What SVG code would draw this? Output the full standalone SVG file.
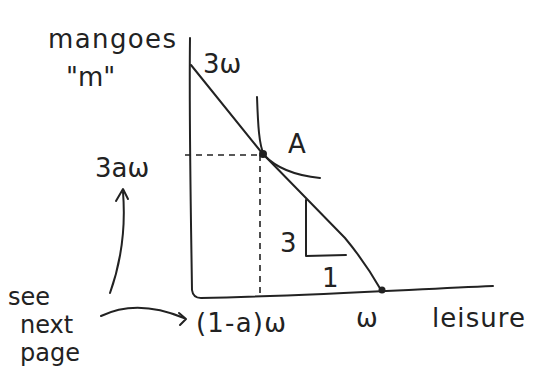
<svg xmlns="http://www.w3.org/2000/svg" width="545" height="385" viewBox="0 0 545 385">
<defs>
<style>
.ln{fill:none;stroke:#222;stroke-width:2;stroke-linecap:round;stroke-linejoin:round}
.ds{fill:none;stroke:#222;stroke-width:1.6;stroke-dasharray:6,5}
.t{font-family:"DejaVu Sans","Liberation Sans",sans-serif;font-size:26px;fill:#222}
.s{font-size:24px}
</style>
</defs>
<rect width="545" height="385" fill="#fff"/>
<g id="axes">
<path class="ln" d="M190,38 C189,120 191,220 192,290 Q193,298 201,298 C300,296 400,290 493,286"/>
</g>
<g id="connectors">
<path class="ln" d="M191,65 L262,153 L345,238 Q365,262 381,290"/>
<path class="ds" d="M185,155 L262,155"/>
<path class="ds" d="M260,155 L260,298"/>
<path class="ln" d="M306,200 L306,256 L346,255"/>
<path class="ln" d="M257,97 C258,125 259,145 264,155 C278,170 300,176 320,178"/>
<path class="ln" d="M110,293 C120,265 126,230 123,192"/>
<path class="ln" d="M116,201 L123,189 L128,199"/>
<path class="ln" d="M101,316 C130,302 160,308 184,318"/>
<path class="ln" d="M179,313 L186,319 L180,325"/>
</g>
<g id="points">
<circle cx="263" cy="154" r="4" fill="#222"/>
<circle cx="382" cy="290" r="3.5" fill="#222"/>
</g>
<g id="labels">
<text class="t" x="48" y="48" textLength="128">mangoes</text>
<text class="t" x="66" y="86">"m"</text>
<text class="t" x="203" y="73">3ω</text>
<text class="t" x="95" y="177">3aω</text>
<text class="t" x="288" y="153">A</text>
<text class="t" x="280" y="252">3</text>
<text class="t" x="322" y="287">1</text>
<text class="t" x="196" y="332" textLength="90">(1-a)ω</text>
<text class="t" x="356" y="327">ω</text>
<text class="t" x="432" y="327" textLength="93">leisure</text>
<text class="t s" x="8" y="305">see</text>
<text class="t s" x="20" y="333">next</text>
<text class="t s" x="20" y="361">page</text>
</g>
</svg>
